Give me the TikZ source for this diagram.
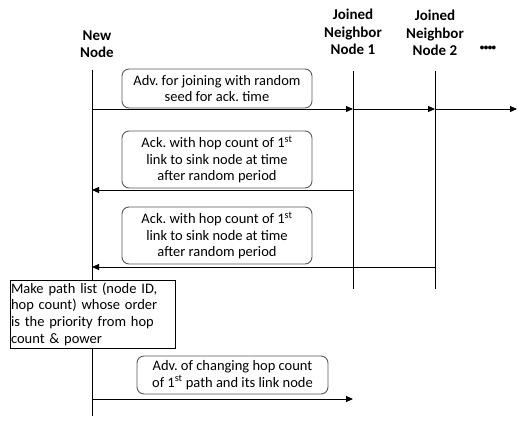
\documentclass[tikz,border=0pt]{standalone}
\usepackage{fontspec}
\setmainfont{Carlito}
\usetikzlibrary{arrows.meta}
\begin{document}
\begin{tikzpicture}[x=1pt,y=-1pt,
  msgbox/.style={draw=black!65, line width=0.9pt, rounded corners=7pt, fill=white, align=center, inner sep=0pt, font=\fontsize{14.5}{16.5}\selectfont},
  notebox/.style={draw=black, line width=0.9pt, fill=white, inner xsep=1pt, inner ysep=0pt, font=\fontsize{14.5}{16.7}\selectfont},
  head/.style={align=center, font=\fontsize{15}{17.5}\selectfont\bfseries, inner sep=0pt},
  life/.style={line width=0.9pt},
  msg/.style={line width=0.9pt, -{Triangle[length=7pt,width=6pt]}}]
\useasboundingbox (0,0) rectangle (517,440);
% headers
\node[head] (hn) at (97,44) {New\\Node};
\node[head] (h1) at (353,32) {Joined\\Neighbor\\Node 1};
\node[head] (h2) at (435,33) {Joined\\Neighbor\\Node 2};
\node[head, font=\fontsize{9}{10}\selectfont\bfseries] (hd) at (488,48) {\textbullet\kern-0.5pt\textbullet\kern-0.5pt\textbullet\kern-0.5pt\textbullet};
% lifeline ends
\coordinate (n0) at (92,70);
\coordinate (n9) at (92,416);
\coordinate (a0) at (353,71);
\coordinate (a9) at (353,289);
\coordinate (b0) at (435,71);
\coordinate (b9) at (435,289);
\draw[life] (n0) -- (n9);
\draw[life] (a0) -- (a9);
\draw[life] (b0) -- (b9);
% message 1
\node[msgbox, minimum width=190pt, minimum height=39pt] (m1) at (217,88.5) {Adv.\ for joining with random\\seed for ack.\ time};
\coordinate (m1n) at (92,109);
\coordinate (m1a) at (353,109);
\coordinate (m1b) at (435,109);
\coordinate (m1e) at (517,109);
\draw[msg] (m1n) -- (m1a);
\draw[msg] (m1a) -- (m1b);
\draw[msg] (m1b) -- (m1e);
% message 2
\node[msgbox, minimum width=190pt, minimum height=57pt] (m2) at (217,159.5) {Ack.\ with hop count of 1\textsuperscript{st}\\link to sink node at time\\after random period};
\coordinate (m2a) at (353,190);
\coordinate (m2n) at (92,190);
\draw[msg] (m2a) -- (m2n);
% message 3
\node[msgbox, minimum width=190pt, minimum height=57pt] (m3) at (217,235.5) {Ack.\ with hop count of 1\textsuperscript{st}\\link to sink node at time\\after random period};
\coordinate (m3b) at (435,267);
\coordinate (m3n) at (92,267);
\draw[msg] (m3b) -- (m3n);
% note
\node[notebox, text width=163pt, minimum height=68pt] (note) at (92.5,314) {%
\makebox[163pt][s]{Make path list (node ID,}\\
\makebox[163pt][s]{hop count) whose order}\\
\makebox[163pt][s]{is the priority from hop}\\
count \& power};
% message 4
\node[msgbox, minimum width=191pt, minimum height=38pt] (m4) at (232.5,375) {Adv.\ of changing hop count\\of 1\textsuperscript{st} path and its link node};
\coordinate (m4n) at (92,399);
\coordinate (m4a) at (353,399);
\draw[msg] (m4n) -- (m4a);
\end{tikzpicture}
\end{document}
